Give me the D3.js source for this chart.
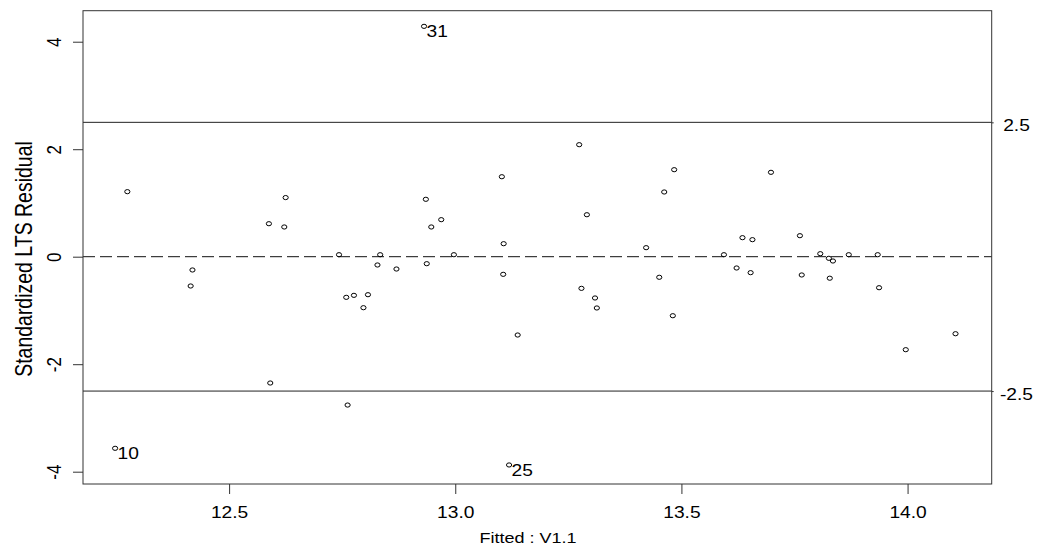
<!DOCTYPE html>
<html>
<head>
<meta charset="utf-8">
<script src="https://cdn.jsdelivr.net/npm/d3@7"></script>
<style>
  body { margin: 0; background: #fff; }
  svg { display: block; font-family: "Liberation Sans", Arial, sans-serif; }
  text { fill: #000; }
</style>
</head>
<body>
<div id="chart"></div>
<script>
// data
var fitted = [12.275, 12.625, 12.588, 12.622, 12.419, 12.415, 12.591, 12.248,
	12.931, 13.103, 12.935, 12.969, 12.947, 12.743, 12.834, 12.997,
	13.107, 12.828, 12.870, 12.937, 13.106, 12.759, 12.776, 12.807,
	12.797, 13.138, 12.762, 13.119, 13.274, 13.484, 13.462, 13.291,
	13.422, 13.594, 13.635, 13.657, 13.622, 13.653, 13.451, 13.279,
	13.309, 13.313, 13.481, 13.698, 13.762, 13.807, 13.826, 13.835,
	13.870, 13.934, 13.766, 13.828, 13.937, 14.106, 13.996];
var residual = [1.21, 1.10, 0.614, 0.553, -0.247, -0.545, -2.35, -3.565,
	4.286, 1.488, 1.068, 0.689, 0.553, 0.037, 0.037, 0.037,
	0.242, -0.154, -0.229, -0.130, -0.328, -0.756, -0.719, -0.707,
	-0.949, -1.457, -2.76, -3.875, 2.084, 1.619, 1.204, 0.781,
	0.168, 0.037, 0.354, 0.317, -0.210, -0.297, -0.383, -0.589,
	-0.768, -0.954, -1.098, 1.570, 0.391, 0.056, -0.030, -0.080,
	0.037, 0.037, -0.340, -0.400, -0.577, -1.433, -1.730];
// observation numbers shown next to the outliers
var outlierIndex = [7, 8, 27],
	outlierName = ['10', '31', '25'];

var xTicks = [12.5, 13.0, 13.5, 14.0],
	yTicks = [-4, -2, 0, 2, 4],
	cutoffs = [-2.5, 2.5];

var xTitle = 'Fitted : V1.1',
	yTitle = 'Standardized LTS Residual';

var svgWidth = 1039,
	svgHeight = 546;

var plot = { l: 83, r: 991.7, t: 10.7, b: 484 };
var stretch = 'scale(1.2,1)';

// plain hyphen minus, like the original
var fmt1 = d => d.toFixed(1),
	fmt0 = d => String(d);

var svg = d3.select('#chart')
	.append('svg')
	.attr('width', svgWidth)
	.attr('height', svgHeight);

var xScale = d3.scaleLinear()
	.domain([12.177, 14.186])
	.range([plot.l, plot.r]);
var yScale = d3.scaleLinear()
	.domain([-4.229, 4.577])
	.range([plot.b, plot.t]);

// reference lines
svg.append('line')
	.attr('x1', plot.l).attr('x2', plot.r)
	.attr('y1', yScale(0)).attr('y2', yScale(0))
	.attr('stroke', '#111')
	.attr('stroke-dasharray', '12,5');

svg.selectAll('.cut')
	.data(cutoffs)
	.enter()
	.append('line')
	.attr('class', 'cut')
	.attr('x1', plot.l).attr('x2', plot.r)
	.attr('y1', d => yScale(d)).attr('y2', d => yScale(d))
	.attr('stroke', '#222');

// axes
var xAxis = svg.append('g')
	.attr('transform', `translate(0,${plot.b})`)
	.call(d3.axisBottom(xScale).tickValues(xTicks).tickFormat(fmt1)
		.tickSize(10).tickPadding(13));

var yAxis = svg.append('g')
	.attr('transform', `translate(${plot.l},0)`)
	.call(d3.axisLeft(yScale).tickValues(yTicks).tickFormat(fmt0).tickSize(10));

var rAxis = svg.append('g')
	.attr('transform', `translate(${plot.r},0)`)
	.call(d3.axisRight(yScale).tickValues(cutoffs).tickFormat(fmt1).tickSize(2));

[xAxis, yAxis, rAxis].forEach(g => {
	g.select('.domain').remove();
	g.selectAll('line').attr('stroke', '#333');
	g.selectAll('text')
		.attr('font-size', 16)
		.attr('font-family', '"Liberation Sans", Arial, sans-serif')
		.attr('fill', '#000');
});

xAxis.selectAll('text').attr('transform', stretch);

yAxis.selectAll('text')
	.attr('x', null)
	.attr('dy', null)
	.attr('font-size', 17)
	.attr('text-anchor', 'middle')
	.attr('transform', `translate(-22,0) ${stretch} rotate(-90)`);

rAxis.selectAll('text')
	.attr('x', null)
	.attr('dy', null)
	.attr('text-anchor', 'middle')
	.attr('transform', `translate(24.8,8.5) ${stretch}`);

// frame
svg.append('rect')
	.attr('x', plot.l).attr('y', plot.t)
	.attr('width', plot.r - plot.l).attr('height', plot.b - plot.t)
	.attr('fill', 'none')
	.attr('stroke', '#333');

// points
svg.append('g').selectAll('ellipse')
	.data(fitted)
	.enter()
	.append('ellipse')
	.attr('cx', (d, i) => xScale(d))
	.attr('cy', (d, i) => yScale(residual[i]))
	.attr('rx', 2.6)
	.attr('ry', 2.1)
	.attr('fill', 'none')
	.attr('stroke', '#000')
	.attr('stroke-width', 1);

svg.append('g').selectAll('text')
	.data(outlierIndex)
	.enter()
	.append('text')
	.attr('transform', d => `translate(${xScale(fitted[d]) + 2.5},${yScale(residual[d]) + 11}) ${stretch}`)
	.attr('font-size', 16)
	.text((d, i) => outlierName[i]);

// titles
svg.append('text')
	.attr('transform', `translate(528,542.5) ${stretch}`)
	.attr('text-anchor', 'middle')
	.attr('font-size', 15)
	.text(xTitle);

svg.append('text')
	.attr('transform', `translate(32,259) ${stretch} rotate(-90)`)
	.attr('text-anchor', 'middle')
	.attr('font-size', 19.5)
	.text(yTitle);
</script>
</body>
</html>
